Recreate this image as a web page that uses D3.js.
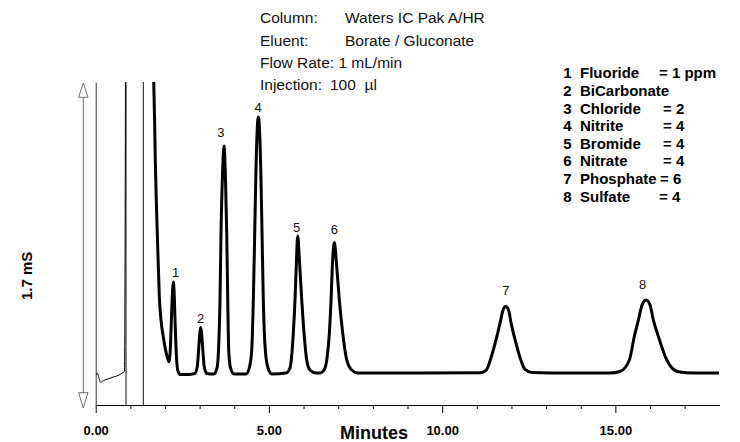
<!DOCTYPE html>
<html>
<head>
<meta charset="utf-8">
<script src="https://cdn.jsdelivr.net/npm/d3@7"></script>
<style>
body { margin: 0; background: #fff; }
svg { font-family: "Liberation Sans", Arial, sans-serif; }
</style>
</head>
<body>
<svg width="740" height="442"></svg>
<script>
"use strict";

// SVG.

var svg = d3.select("svg");

// Data: [minutes, mS].

// Thin trace before the void (drawn with a fine pen).
var leadTrace = [
    [0.00, 0.158], [0.046, 0.167], [0.095, 0.142], [0.144, 0.119],
    [0.219, 0.128], [0.355, 0.137], [0.50, 0.147], [0.644, 0.155],
    [0.779, 0.170], [0.831, 0.176], [0.860, 1.70]
];

// Main trace, water dip and the eight peaks.
var mainTrace = [
    [1.675, 1.70], [1.700, 1.50], [1.720, 1.289], [1.749, 1.079],
    [1.784, 0.868], [1.836, 0.574], [1.885, 0.447], [1.952, 0.358],
    [2.050, 0.263], [2.116, 0.228],
    // 1 Fluoride
    [2.160, 0.316], [2.194, 0.500], [2.220, 0.605], [2.240, 0.647],
    [2.263, 0.595], [2.290, 0.447], [2.324, 0.279], [2.367, 0.184],
    [2.434, 0.161], [2.665, 0.161],
    // 2 BiCarbonate
    [2.860, 0.166], [2.935, 0.207], [2.980, 0.316], [3.010, 0.384],
    [3.031, 0.408], [3.056, 0.379], [3.088, 0.300], [3.130, 0.205],
    [3.205, 0.166],
    // 3 Chloride
    [3.415, 0.163], [3.502, 0.195], [3.545, 0.289], [3.588, 0.553],
    [3.617, 0.905], [3.660, 1.211], [3.704, 1.363], [3.747, 1.184],
    [3.782, 0.905], [3.811, 0.553], [3.840, 0.289], [3.891, 0.195],
    [3.992, 0.163],
    // 4 Nitrite
    [4.339, 0.163], [4.440, 0.200], [4.503, 0.289], [4.550, 0.553],
    [4.590, 0.904], [4.628, 1.254], [4.694, 1.516], [4.763, 1.254],
    [4.801, 0.904], [4.838, 0.553], [4.896, 0.289], [4.974, 0.195],
    [5.090, 0.163],
    // 5 Bromide
    [5.493, 0.168], [5.609, 0.195], [5.667, 0.279], [5.704, 0.379],
    [5.753, 0.553], [5.788, 0.728], [5.831, 0.889], [5.883, 0.753],
    [5.947, 0.553], [6.013, 0.379], [6.091, 0.237], [6.186, 0.184],
    [6.360, 0.168],
    // 6 Nitrate
    [6.475, 0.168], [6.591, 0.184], [6.677, 0.247], [6.744, 0.377],
    [6.793, 0.553], [6.830, 0.728], [6.888, 0.855], [6.957, 0.728],
    [7.032, 0.553], [7.131, 0.377], [7.246, 0.237], [7.390, 0.184],
    [7.572, 0.168], [9.360, 0.168],
    // 7 Phosphate
    [11.094, 0.170], [11.267, 0.182], [11.426, 0.258], [11.556, 0.344],
    [11.672, 0.432], [11.759, 0.500], [11.836, 0.518], [11.917, 0.500],
    [11.989, 0.432], [12.105, 0.344], [12.234, 0.258], [12.393, 0.187],
    [12.595, 0.171], [13.700, 0.168],
    // 8 Sulfate
    [14.840, 0.168], [15.130, 0.176], [15.404, 0.237], [15.548, 0.361],
    [15.664, 0.447], [15.770, 0.526], [15.886, 0.553], [16.001, 0.526],
    [16.097, 0.447], [16.241, 0.361], [16.484, 0.237], [16.819, 0.175],
    [17.243, 0.168], [17.990, 0.168]
];

// Event marks at the void.
var markerTimes = [0.875, 1.374];

// Peak numbers and where they sit.
var peakNames = ["1", "2", "3", "4", "5", "6", "7", "8"];
var labelTimes = [2.31, 3.03, 3.61, 4.69, 5.80, 6.89, 11.84, 15.79];
var labelLevels = [0.674, 0.430, 1.409, 1.541, 0.913, 0.900, 0.579, 0.609];

// Axis ticks.
var majorTicks = [0, 5, 10, 15];
var minorTicks = [1, 2, 3, 4, 6, 7, 8, 9, 11, 12, 13, 14, 16, 17];

// Legend.
var legendNums = ["1", "2", "3", "4", "5", "6", "7", "8"];
var legendNames = ["Fluoride", "BiCarbonate", "Chloride", "Nitrite",
                   "Bromide", "Nitrate", "Phosphate", "Sulfate"];
var legendValues = ["= 1 ppm", "", "= 2", "= 4", "= 4", "= 4", "= 6", "= 4"];

// Run conditions.
var condLabels = ["Column:", "Eluent:", "Flow Rate: 1 mL/min", "Injection:"];
var condValues = ["Waters IC Pak A/HR", "Borate / Gluconate", "", "100  \u00b5l"];

var ScaleBarText = "1.7 mS";
var XTitle = "Minutes";

// Layout.

var Left = 95.7, Right = 719.3, Top = 82, Bottom = 405;
var TraceWidth = 3;
var LegendValueX = [659, 0, 663, 663, 663, 663, 660, 659];
var CondValueX = [345, 345, 0, 330];

var x = d3.scaleLinear().domain([0, 18]).range([Left, Right]);
var y = d3.scaleLinear().domain([0, 1.7]).range([Bottom, Top]);

svg.append("defs").append("clipPath").attr("id", "plot")
    .append("rect")
        .attr("x", Left).attr("y", Top)
        .attr("width", Right - Left).attr("height", Bottom - Top);

// Scale bar arrow on the left.

var ArrowX = 83.3;
var bar = svg.append("g").attr("stroke", "#707070").attr("fill", "#fff");
bar.append("line")
    .attr("x1", ArrowX).attr("x2", ArrowX)
    .attr("y1", y(1.7) + 1).attr("y2", y(0) + 3);
bar.append("path")
    .attr("d", "M" + ArrowX + "," + (y(1.7) + 1) + "l-4.7,14.3h9.4z");
bar.append("path")
    .attr("d", "M" + ArrowX + "," + (y(0) + 3) + "l-4.7,-15.3h9.4z");

svg.append("text")
    .attr("transform", "translate(27," + (y(0.68)) + ") rotate(-90)")
    .attr("text-anchor", "middle")
    .attr("dy", "0.36em")
    .style("font-size", "15px")
    .style("font-weight", "bold")
    .text(ScaleBarText);

// Axes.

var gx = svg.append("g").attr("transform", "translate(0," + Bottom + ")");
gx.call(d3.axisBottom(x).tickValues(minorTicks).tickSize(4)
        .tickSizeOuter(0).tickFormat(""));
var gxMajor = svg.append("g").attr("transform", "translate(0," + Bottom + ")");
gxMajor.call(d3.axisBottom(x).tickValues(majorTicks).tickSize(8)
        .tickSizeOuter(0).tickFormat(d3.format(".2f")));
gxMajor.selectAll("text")
    .attr("y", 30).attr("dy", null)
    .style("font-size", "13px")
    .style("font-weight", "bold")
    .attr("fill", "#000");
svg.selectAll(".tick line").attr("stroke", "#000");
svg.selectAll(".domain").attr("stroke", "#000");

var gy = svg.append("g").attr("transform", "translate(" + Left + ",0)");
gy.call(d3.axisLeft(y).tickValues([]).tickSizeOuter(0));
gy.select(".domain").attr("stroke", "#333");

svg.append("text")
    .attr("x", 374).attr("y", 438.5)
    .attr("text-anchor", "middle")
    .style("font-size", "18px")
    .style("font-weight", "bold")
    .text(XTitle);

// Void markers.

svg.selectAll("line.mark")
    .data(markerTimes)
    .enter()
    .append("line")
        .attr("class", "mark")
        .attr("x1", function(d){ return x(d); })
        .attr("x2", function(d){ return x(d); })
        .attr("y1", y(1.7))
        .attr("y2", y(0))
        .attr("stroke", "#111")
        .attr("stroke-width", 1);

// Traces.

var line = d3.line()
    .x(function(d){ return x(d[0]); })
    .y(function(d){ return y(d[1]); })
    .curve(d3.curveMonotoneX);

var plot = svg.append("g").attr("clip-path", "url(#plot)");

plot.append("path")
    .attr("d", line(leadTrace))
    .attr("fill", "none")
    .attr("stroke", "#000")
    .attr("stroke-width", 1);

plot.append("path")
    .attr("d", line(mainTrace))
    .attr("fill", "none")
    .attr("stroke", "#000")
    .attr("stroke-width", TraceWidth)
    .attr("stroke-linejoin", "round");

// Peak labels.

svg.selectAll("text.peak")
    .data(peakNames)
    .enter()
    .append("text")
        .attr("class", "peak")
        .attr("x", function(d, i){ return x(labelTimes[i]); })
        .attr("y", function(d, i){ return y(labelLevels[i]); })
        .attr("text-anchor", "middle")
        .style("font-size", "13px")
        .attr("fill", "#111")
        .text(function(d){ return d; });

// Run conditions block.

var CondX = 260, CondY = 23.3, CondStep = 22.2;
var cond = svg.append("g").style("font-size", "15.5px").attr("fill", "#111");
condLabels.forEach(function(label, i){
    cond.append("text")
        .attr("x", CondX).attr("y", CondY + i*CondStep)
        .text(label);
    if (condValues[i]){
        cond.append("text")
            .attr("x", CondValueX[i]).attr("y", CondY + i*CondStep)
            .attr("xml:space", "preserve")
            .text(condValues[i]);
    }
});

// Legend.

var LegY = 78.3, LegStep = 17.62;
var leg = svg.append("g")
    .style("font-size", "15px")
    .style("font-weight", "bold")
    .attr("fill", "#000");
legendNames.forEach(function(name, i){
    var ty = LegY + i*LegStep;
    leg.append("text").attr("x", 563.3).attr("y", ty).text(legendNums[i]);
    leg.append("text").attr("x", 580).attr("y", ty).text(name);
    if (legendValues[i]){
        leg.append("text").attr("x", LegendValueX[i]).attr("y", ty)
            .text(legendValues[i]);
    }
});
</script>
</body>
</html>
